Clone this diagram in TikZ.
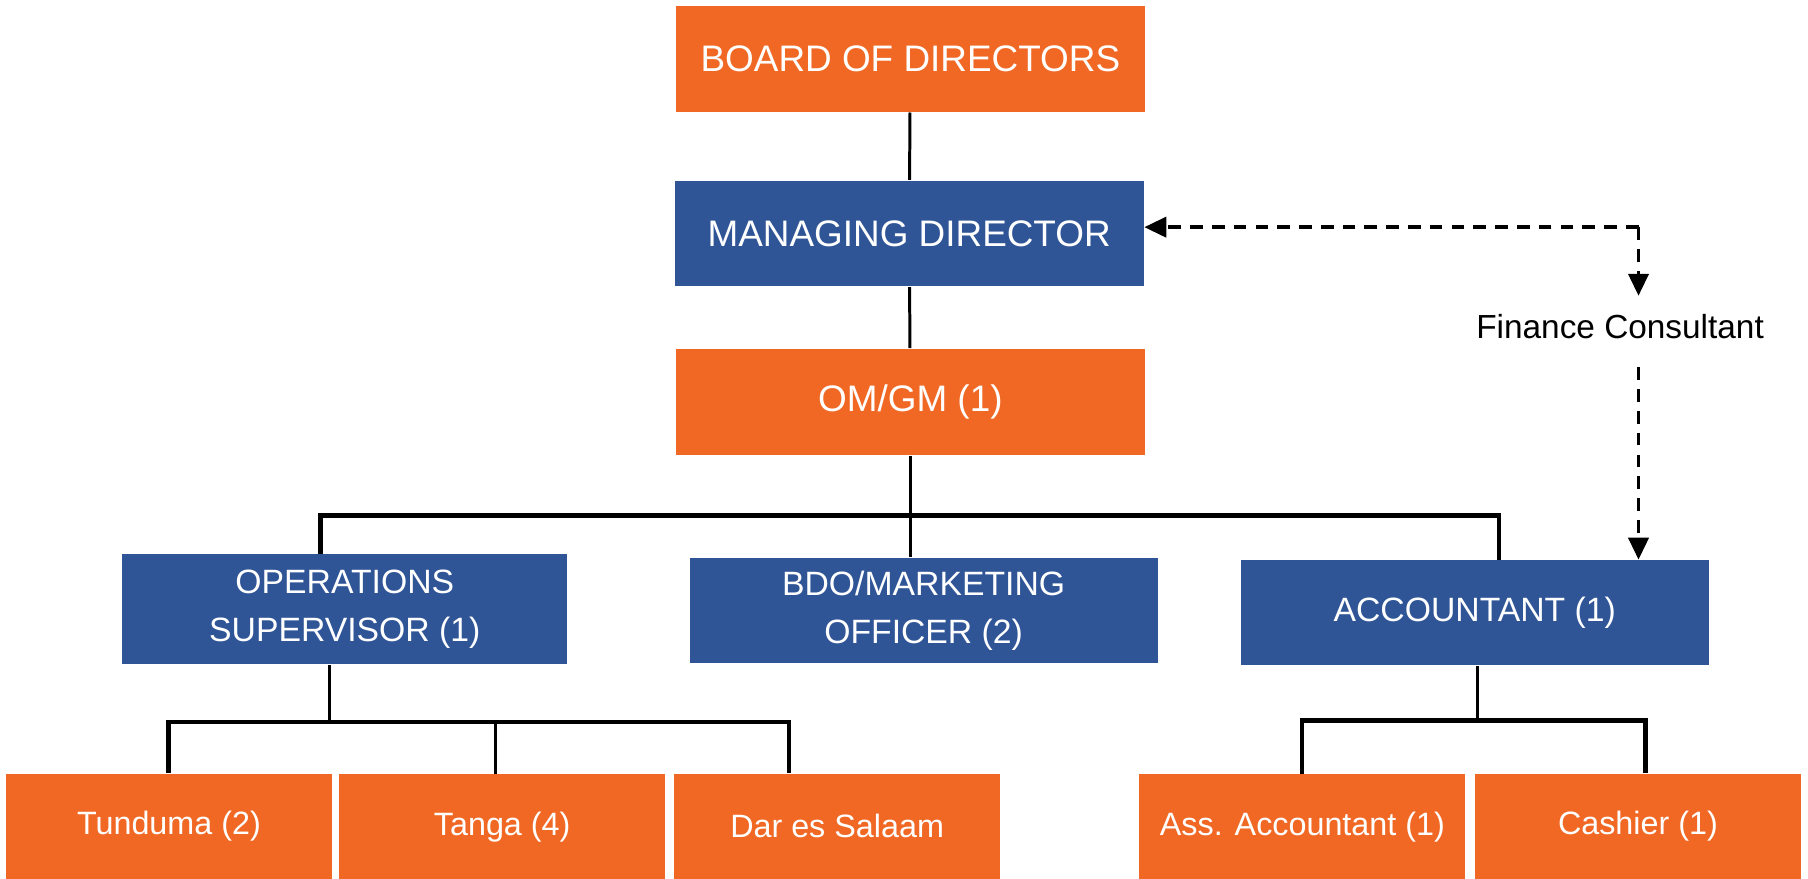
\documentclass[tikz,border=0pt]{standalone}
\usepackage{fontspec}
\setmainfont{Liberation Sans}
\usetikzlibrary{arrows.meta,positioning,shapes,backgrounds}

\definecolor{chartorange}{RGB}{241,104,36}
\definecolor{chartblue}{RGB}{47,85,151}

\begin{document}
\begin{tikzpicture}[x=0.011531cm, y=-0.011531cm]

   \tikzstyle{headbox}=[rectangle, text=white, inner sep=0pt, align=center, minimum width=4.69cm, minimum height=1.06cm, font=\fontsize{10.5}{12.6}\selectfont]
   \tikzstyle{unitbox}=[rectangle, fill=chartblue, text=white, inner sep=0pt, align=center, minimum width=4.68cm, minimum height=1.05cm, font=\fontsize{9.6}{13.5}\selectfont]
   \tikzstyle{branchbox}=[rectangle, fill=chartorange, text=white, inner sep=0pt, align=center, minimum width=3.26cm, minimum height=1.05cm, font=\fontsize{9.2}{11}\selectfont]
   \tikzstyle{stem}=[line width=0.85pt, black]
   \tikzstyle{bar}=[line width=1.25pt, black]
   \tikzstyle{advice}=[line width=1.1pt, black, dash pattern=on 3.6pt off 2.6pt, -{Triangle[length=2.2mm, width=2mm]}]

   \useasboundingbox (0,0) rectangle (1568,762);

   \node[headbox, fill=chartorange] (board) at (789.5,51)  {BOARD OF DIRECTORS};
   \node[headbox, fill=chartblue]   (md)    at (788.5,202.5) {MANAGING DIRECTOR};
   \node[headbox, fill=chartorange] (omgm)  at (789.5,348.5) {OM/GM (1)};

   \node[unitbox, minimum width=4.45cm, minimum height=1.10cm] (ops) at (299,528.5) {OPERATIONS\\SUPERVISOR (1)};
   \node[unitbox] (bdo) at (801,529.5)  {BDO/MARKETING\\OFFICER (2)};
   \node[unitbox] (acc) at (1279,531.5) {ACCOUNTANT (1)};

   \node[branchbox] (tunduma) at (146.5,716.5) {Tunduma (2)};
   \node[branchbox] (tanga)   at (435.5,717)   {Tanga (4)};
   \node[branchbox] (dar)     at (726,716.5)   {Dar es Salaam};
   \node[branchbox] (ass)     at (1129.5,717)  {Ass. Accountant (1)};
   \node[branchbox] (cashier) at (1420.5,716.5) {Cashier (1)};

   \node[inner xsep=0pt, inner ysep=3pt, font=\fontsize{9.5}{11}\selectfont] (fin) at (1405,283) {Finance Consultant};

   % reporting lines
   \coordinate (barL) at (278,447);
   \coordinate (barR) at (1300,447);
   \coordinate (opsbar) at (286,626);
   \coordinate (brL) at (146,626);
   \coordinate (brM) at (430,626);
   \coordinate (brR) at (684,626);
   \coordinate (accbar) at (1281,625);
   \coordinate (abL) at (1129,625);
   \coordinate (abR) at (1427,625);

   \draw[stem] (board) -- (md);
   \draw[stem] (md) -- (omgm);
   \draw[stem] (omgm.south) -- (omgm.south |- bdo.north);
   \draw[bar] (ops.north -| barL) -- (barL) -- (barR) -- (barR |- acc.north);

   \draw[stem] (ops.south -| opsbar) -- (opsbar);
   \draw[bar] (tunduma.north -| brL) -- (brL) -- (brR) -- (brR |- dar.north);
   \draw[stem] (brM) -- (brM |- tanga.north);

   \draw[stem] (acc.south -| accbar) -- (accbar);
   \draw[bar] (ass.north -| abL) -- (abL) -- (abR) -- (abR |- cashier.north);

   % consultant links
   \coordinate (corner) at (1421,197);
   \draw[advice] (corner) -- (md.east |- corner);
   \draw[advice, shorten >=2pt] (corner) -- (fin.north -| corner);
   \draw[advice, shorten <=5pt] (fin.south -| corner) -- (acc.north -| corner);
\end{tikzpicture}
\end{document}
